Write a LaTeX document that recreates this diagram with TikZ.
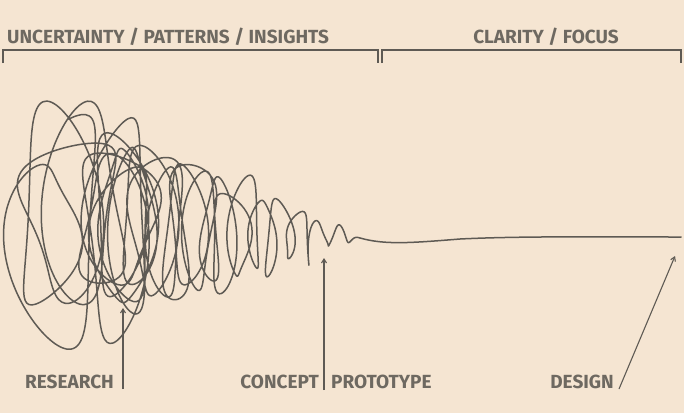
\documentclass[tikz,border=0pt]{standalone}
\usepackage{fontspec}
\setmainfont{Fira Sans}
\usetikzlibrary{arrows.meta}
\definecolor{bgc}{HTML}{F5E5D2}
\definecolor{inkc}{HTML}{5E5A54}
\definecolor{txtc}{HTML}{6E6961}
\begin{document}
\begin{tikzpicture}[x=1pt,y=-1pt,
  lbl/.style={text=txtc,font=\fontsize{19}{19}\selectfont\bfseries,inner sep=0pt},
  brk/.style={draw=inkc,line width=1.2pt},
  pointer/.style={draw=inkc,line width=1.1pt,-{Straight Barb[length=4pt,width=5pt]}},
  scrib/.style={draw=inkc,line width=1.5pt,line join=round,line cap=round},
  declare function={
    Sn(\a)=sin(mod(\a,6.283185) r);
    Cs(\a)=cos(mod(\a,6.283185) r);
    pp(\t)=\t/163;
    cx(\t)=70+138*pp(\t)+152*pp(\t)^3+35*Sn(0.11*\t+3.5)*(1-pp(\t))^3;
    rx(\t)=(14+28*(1-pp(\t))^2)*(1-pp(\t)^6)*(1-0.8*pp(\t)^10)*(1+0.25*Sn(0.31*\t+2));
    ry(\t)=(105-30*pp(\t))*(1-pp(\t)^4)*(1+0.22*Sn(0.57*\t));
    cy(\t)=215+23*pp(\t)+18*Sn(0.23*\t)*(1-pp(\t));
    qx(\t)=cx(\t)+rx(\t)*(Sn(\t)+0.25*Sn(2.3*\t+1));
    qy(\t)=cy(\t)-ry(\t)*(Cs(\t)+0.2*Sn(1.6*\t+0.5))/1.2;
  }]
\fill[bgc] (0,0) rectangle (684,413);
\useasboundingbox (0,0) rectangle (684,413);

% headers
\node[lbl,anchor=west] (hdrA) at (7,37) {UNCERTAINTY / PATTERNS / INSIGHTS};
\node[lbl] (hdrB) at (546,37) {CLARITY / FOCUS};

% brackets
\coordinate (bA1) at (3,63); \coordinate (bA2) at (378,63);
\coordinate (bB1) at (382,63); \coordinate (bB2) at (681,63);
\draw[brk] (bA1) |- (378,50) -- (bA2);
\draw[brk] (bB1) |- (681,50) -- (bB2);

% squiggle
\draw[scrib] plot[domain=0:163,samples=1500,smooth,variable=\t] ({qx(\t)},{qy(\t)});
\coordinate (sqEnd) at (360,238);
\coordinate (lineEnd) at (681,237);
\draw[scrib] (sqEnd) .. controls (385,245) and (410,243) .. (460,239)
  .. controls (520,236) and (600,237) .. (lineEnd);

% bottom labels
\node[lbl,anchor=west] (research) at (25,382) {RESEARCH};
\node[lbl,anchor=east] (concept) at (319,382) {CONCEPT};
\node[lbl,anchor=west] (prototype) at (331,382) {PROTOTYPE};
\node[lbl,anchor=east] (design) at (614,382) {DESIGN};

% pointers
\coordinate (rBase) at (123,389); \coordinate (rTip) at (123,308);
\coordinate (cBase) at (324,390); \coordinate (cTip) at (324,258);
\coordinate (dBase) at (619,389); \coordinate (dTip) at (675,256);
\draw[pointer] (rBase) -- (rTip);
\draw[pointer] (cBase) -- (cTip);
\draw[pointer] (dBase) -- (dTip);
\end{tikzpicture}
\end{document}
